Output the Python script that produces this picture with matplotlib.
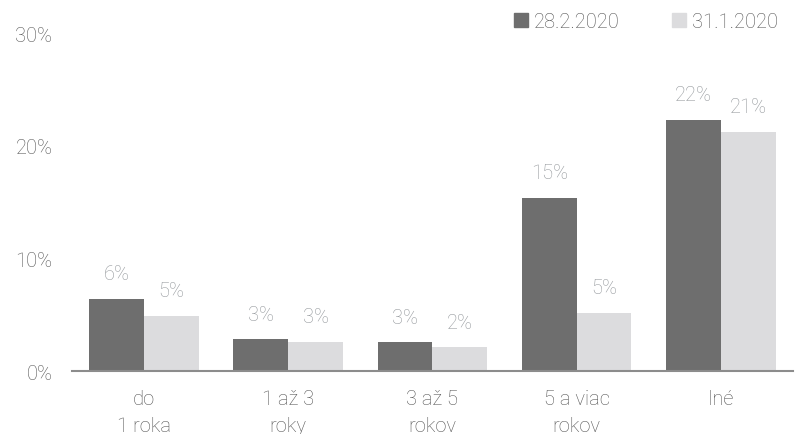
import numpy as np
import matplotlib.pyplot as plt
from matplotlib.patches import Patch

plt.rcParams['font.family'] = ['Roboto', 'DejaVu Sans']

categories = ['do\n1 roka', '1 až 3\nroky', '3 až 5\nrokov', '5 a viac\nrokov', 'Iné']
feb = [6.4, 2.8, 2.55, 15.4, 22.3]
jan = [4.9, 2.6, 2.1, 5.15, 21.2]
series_names = ['28.2.2020', '31.1.2020']

dark = '#6e6e6e'
light = '#dcdcde'
lbl_col = '#93979b'
txt_col = '#555555'
fs = 14.5

fig = plt.figure(figsize=(7.99, 4.35), dpi=100)
ax = fig.add_axes([0.090, 0.1448, 0.9025, 0.777])

x = np.arange(len(categories))
w = 0.38
b1 = ax.bar(x - w / 2, feb, w, color=dark)
b2 = ax.bar(x + w / 2, jan, w, color=light)

for bars, vals in ((b1, feb), (b2, jan)):
    for r, v in zip(bars, vals):
        ax.text(r.get_x() + r.get_width() / 2, v + 1.4, '{0:.0f}%'.format(round(v + 1e-9)),
                ha='center', va='bottom', fontsize=fs, color=lbl_col, fontweight='light')

ax.set_ylim(0, 30)
ax.set_xlim(-0.5, len(categories) - 0.5)
ax.set_yticks([0, 10, 20, 30])
ax.set_yticklabels(['0%', '10%', '20%', '30%'])
ax.set_xticks(x)
ax.set_xticklabels(categories, linespacing=1.5)
ax.tick_params(axis='both', length=0, labelsize=fs, colors=txt_col)
ax.tick_params(axis='y', pad=14)
ax.tick_params(axis='x', pad=13)
for lab in ax.get_xticklabels() + ax.get_yticklabels():
    lab.set_fontweight('light')

for s in ['top', 'right', 'left']:
    ax.spines[s].set_visible(False)
ax.spines['bottom'].set_color('#8c8c8c')
ax.spines['bottom'].set_linewidth(1.5)

handles = [Patch(color=dark), Patch(color=light)]
leg = fig.legend(handles, series_names, loc='upper right', bbox_to_anchor=(0.997, 1.011),
                 ncol=2, frameon=False, handlelength=0.7, handleheight=0.7,
                 handletextpad=0.3, columnspacing=2.6, prop={'weight': 'light', 'size': fs})
for t in leg.get_texts():
    t.set_color(txt_col)

fig.savefig('out.png', dpi=100)
